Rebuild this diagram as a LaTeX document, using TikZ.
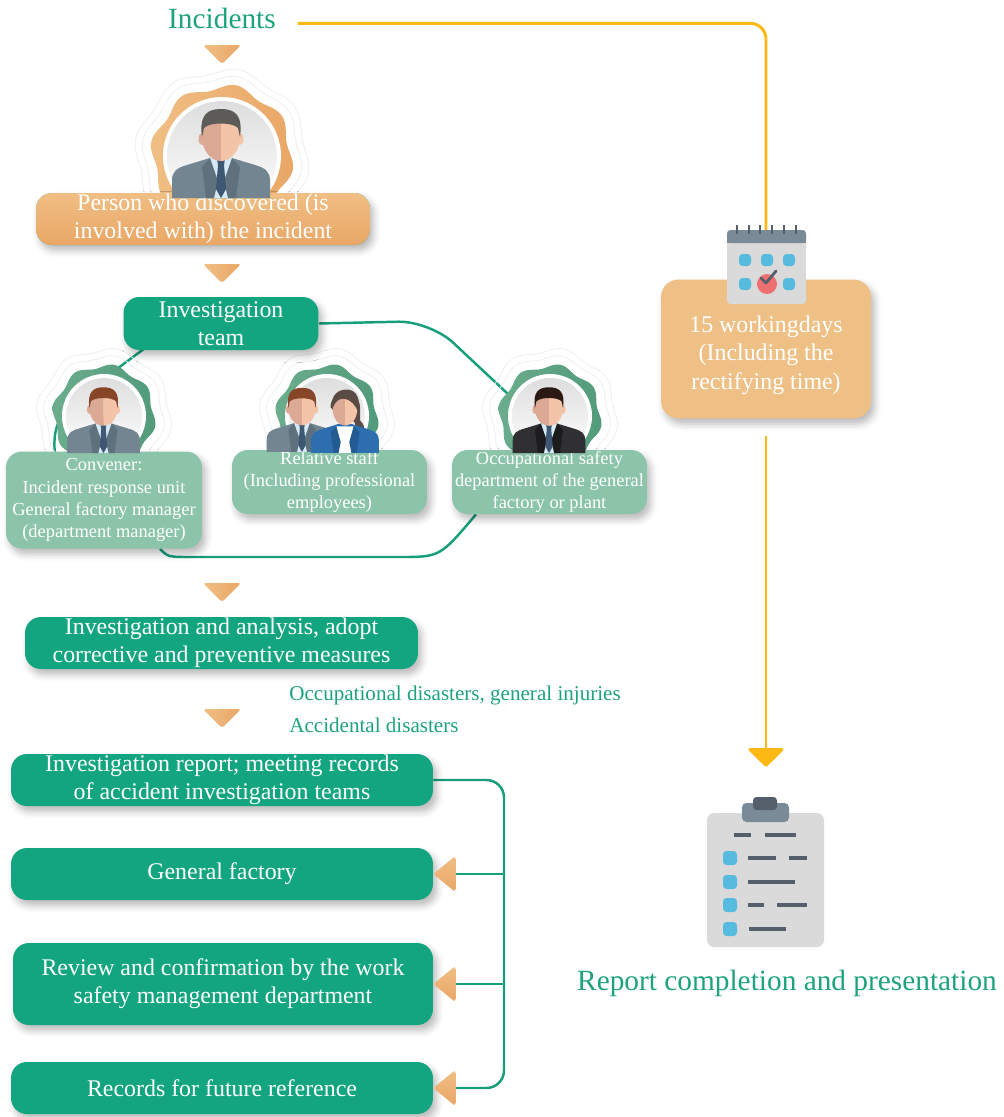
\documentclass[tikz,border=0pt]{standalone}
\usepackage{fontspec}
\setmainfont{Liberation Serif}
\usetikzlibrary{arrows.meta,positioning,calc,backgrounds,shadows.blur}
\definecolor{leaf}{HTML}{13A57F}
\definecolor{leafpale}{HTML}{8CC4A9}
\definecolor{leafline}{HTML}{179E7B}
\definecolor{ink}{HTML}{1CA37D}
\definecolor{amber}{HTML}{FDB913}
\definecolor{peach}{HTML}{EFC085}
\definecolor{peachA}{HTML}{F0BE84}
\definecolor{peachB}{HTML}{E9A766}
\definecolor{sage}{HTML}{6BAD8D}
\definecolor{sageB}{HTML}{519A7A}
\definecolor{skinA}{HTML}{DCA994}
\definecolor{skinB}{HTML}{F3C4A7}
\definecolor{shirt}{HTML}{D5EAF6}
\definecolor{tie}{HTML}{3E5873}
\definecolor{suitgray}{HTML}{728591}
\definecolor{lapelgray}{HTML}{5F717D}
\definecolor{suitdark}{HTML}{303033}
\definecolor{lapeldark}{HTML}{1C1C1E}
\definecolor{suitblue}{HTML}{2D6EAE}
\definecolor{lapelblue}{HTML}{235B93}
\definecolor{hairgray}{HTML}{5D5B58}
\definecolor{hairbrown}{HTML}{874628}
\definecolor{hairdark}{HTML}{2A1A13}
\definecolor{hairwoman}{HTML}{5A4B45}
\definecolor{slate}{HTML}{7A8B97}
\definecolor{slatedark}{HTML}{555E6B}
\definecolor{paper}{HTML}{DADADA}
\definecolor{sky}{HTML}{57BADF}
\definecolor{coral}{HTML}{EE6F6F}
\definecolor{halo}{HTML}{ECEFF5}

% wavy rosette with a white disc in the middle
\newcommand\drawbadge[6]{%
  \begin{scope}[shift={(#1,#2)}]
    \foreach \k in {9,16}
      \draw[halo, line width=0.5pt] plot[domain=0:357, samples=120, smooth cycle]
        ({(#3+\k)*(1+0.035*sin(8*\x))*cos(\x)}, {(#3+\k)*(1+0.035*sin(8*\x))*sin(\x)});
    \shade[left color=#5, right color=#6] plot[domain=0:357, samples=120, smooth cycle]
      ({#3*(1+0.045*sin(8*\x))*cos(\x)}, {#3*(1+0.045*sin(8*\x))*sin(\x)});
    \fill[white] (0,0) circle (#4+3);
    \shade[top color=black!13, bottom color=white] (0,0) circle (#4-1);
  \end{scope}}

% man in a suit: x, y, scale, suit, lapel, hair
\newcommand\drawperson[6]{%
  \begin{scope}[shift={(#1,#2)}, scale=#3]
    \fill[skinA] (-7,10) rectangle (7,26);
    \fill[#4] (-49,61) -- (-49,44) .. controls (-49,34) and (-44,31) .. (-34,28) -- (-11,21) -- (11,21)
      -- (34,28) .. controls (44,31) and (49,34) .. (49,44) -- (49,61) -- cycle;
    \fill[shirt] (-11,21) -- (11,21) -- (7,61) -- (-7,61) -- cycle;
    \fill[#5] (-11,21) -- (-3,44) -- (-7,61) -- (-15,61) -- (-19,30) -- cycle;
    \fill[#5] (11,21) -- (3,44) -- (7,61) -- (15,61) -- (19,30) -- cycle;
    \fill[tie] (-4,22) -- (4,22) -- (3,28) -- (5,52) -- (0,61) -- (-5,52) -- (-3,28) -- cycle;
    \fill[skinA] (-19,2) ellipse (3.5 and 6);
    \fill[skinB] (19,2) ellipse (3.5 and 6);
    \fill[skinA] (0,-24) arc[start angle=270, end angle=90, x radius=19, y radius=24] -- cycle;
    \fill[skinB] (0,-24) arc[start angle=-90, end angle=90, x radius=19, y radius=24] -- cycle;
    \fill[#6] (-19,0) .. controls (-22,-22) and (-14,-28) .. (0,-28) .. controls (14,-28) and (22,-22) .. (19,0)
      -- (17,-9) .. controls (12,-15) and (-12,-15) .. (-17,-9) -- cycle;
  \end{scope}}

% woman with a ponytail: x, y, scale
\newcommand\drawwoman[3]{%
  \begin{scope}[shift={(#1,#2)}, scale=#3]
    \fill[hairwoman] (-20,-2) .. controls (-22,-26) and (20,-30) .. (21,-2) -- (21,16)
      .. controls (30,24) and (30,42) .. (20,48) .. controls (23,36) and (15,28) .. (13,18) -- cycle;
    \fill[skinA] (-7,10) rectangle (7,26);
    \fill[suitblue] (-47,61) -- (-47,44) .. controls (-47,34) and (-42,31) .. (-32,28) -- (-10,21) -- (10,21)
      -- (32,28) .. controls (42,31) and (47,34) .. (47,44) -- (47,61) -- cycle;
    \fill[white] (-12,24) -- (12,24) -- (9,61) -- (-9,61) -- cycle;
    \fill[lapelblue] (-12,24) -- (-6,46) -- (-9,61) -- (-16,61) -- (-20,32) -- cycle;
    \fill[lapelblue] (12,24) -- (6,46) -- (9,61) -- (16,61) -- (20,32) -- cycle;
    \fill[skinA] (0,-23) arc[start angle=270, end angle=90, x radius=17, y radius=23] -- cycle;
    \fill[skinB] (0,-23) arc[start angle=-90, end angle=90, x radius=17, y radius=23] -- cycle;
    \fill[hairwoman] (-18,2) .. controls (-22,-22) and (-6,-28) .. (4,-27) .. controls (16,-26) and (22,-14) .. (19,6)
      .. controls (14,-8) and (4,-16) .. (-6,-14) .. controls (-12,-12) and (-16,-6) .. (-18,2) -- cycle;
  \end{scope}}

\begin{document}
\begin{tikzpicture}[
  x=0.02cm, y=-0.02cm,
  greenbox/.style={
    rectangle,
    rounded corners=9pt,
    fill=leaf,
    text=white,
    align=center,
    inner sep=0pt,
    font=\fontsize{13.6}{16}\selectfont,
    blur shadow={shadow xshift=2pt, shadow yshift=-3pt, shadow blur radius=4pt, shadow opacity=28}
  },
  palebox/.style={greenbox, fill=leafpale, font=\fontsize{10.5}{12.6}\selectfont},
  warmbox/.style={greenbox, top color=peachA, bottom color=peachB},
  daybox/.style={greenbox, fill=peach, rounded corners=10pt},
  teamline/.style={draw=leafline, line width=1.4pt},
  amberline/.style={draw=amber, line width=1.7pt},
  downtip/.pic={\shade[left color=peachA, right color=peachB, rounded corners=1.5pt] (-19,-9) -- (19,-9) -- (0,10) -- cycle;},
  lefttip/.pic={\shade[top color=peachA, bottom color=peachB, rounded corners=1.5pt] (0,0) -- (22,-18) -- (22,18) -- cycle;}
]
\useasboundingbox (0,0) rectangle (1004,1117);

\drawbadge{222}{156}{69}{56}{peachA}{peachB}
\drawbadge{104}{416}{50}{39}{sage}{sageB}
\drawbadge{327}{416}{50}{39}{sage}{sageB}
\drawbadge{550}{416}{50}{39}{sage}{sageB}
\coordinate (occtie) at (524,409);

\node[text=ink, font=\fontsize{16.7}{20}\selectfont] (incid) at (222,18) {Incidents};
\pic at (222,54) {downtip};
\node[warmbox, minimum width=6.68cm, minimum height=1.04cm] (found) at (203,219) {\raisebox{-2pt}{\parbox{6cm}{\centering Person who discovered (is\\involved with) the incident}}};
\pic at (222,273) {downtip};
\node[greenbox, minimum width=3.9cm, minimum height=1.06cm] (team) at (221,323.5) {Investigation\\team};
\node[palebox, minimum width=3.92cm, minimum height=1.94cm] (convener) at (104,500) {Convener:\\Incident response unit\\General factory manager\\(department manager)};
\node[palebox, minimum width=3.9cm, minimum height=1.28cm] (staff) at (329.5,482) {Relative staff\\(Including professional\\employees)};
\node[palebox, minimum width=3.9cm, minimum height=1.28cm] (occsafe) at (549.5,482) {Occupational safety\\department of the general\\factory or plant};
\pic at (222,592) {downtip};
\node[greenbox, minimum width=7.86cm, minimum height=1.04cm] (analysis) at (221.5,643) {Investigation and analysis, adopt\\corrective and preventive measures};
\node[anchor=west, inner sep=0pt, text=ink, font=\fontsize{12}{14}\selectfont] (injury) at (289,695) {Occupational disasters, general injuries};
\node[anchor=west, inner sep=0pt, text=ink, font=\fontsize{12}{14}\selectfont] (accident) at (289,725) {Accidental disasters};
\pic at (222,718) {downtip};
\node[greenbox, minimum width=8.44cm, minimum height=1.04cm] (report) at (222,780) {Investigation report; meeting records\\of accident investigation teams};
\node[greenbox, minimum width=8.44cm, minimum height=1.04cm] (genfac) at (222,874) {General factory};
\node[greenbox, minimum width=8.4cm, minimum height=1.64cm] (review) at (223,984) {Review and confirmation by the work\\safety management department};
\node[greenbox, minimum width=8.44cm, minimum height=1.04cm] (records) at (222,1088) {Records for future reference};
\pic at (genfac.east) {lefttip};
\pic at (review.east) {lefttip};
\pic at (records.east) {lefttip};
\coordinate (gfin) at ($(genfac.east)+(22,0)$);
\coordinate (rvin) at ($(review.east)+(22,0)$);
\coordinate (rcin) at ($(records.east)+(22,0)$);
\coordinate (spine) at (504,1088);

\drawperson{221}{137}{1}{suitgray}{lapelgray}{hairgray}
\drawperson{103.5}{408}{0.74}{suitgray}{lapelgray}{hairbrown}
\drawperson{302}{408}{0.72}{suitgray}{lapelgray}{hairbrown}
\drawwoman{345}{409}{0.72}
\drawperson{549}{408}{0.74}{suitdark}{lapeldark}{hairdark}

% right column
\node[daybox, minimum width=4.2cm, minimum height=2.78cm, font=\fontsize{13.6}{16.4}\selectfont] (days) at (766,349) {\\15 workingdays\\(Including the\\rectifying time)};
\node[minimum width=1.6cm, minimum height=1.56cm, inner sep=0pt] (cal) at (766,266) {};
\fill[paper, rounded corners=2pt] (727,230) rectangle (806,304);
\fill[slate, rounded corners=2pt] (727,230) rectangle (806,243);
\fill[slate] (727,237) rectangle (806,243);
\foreach \u in {737,749,760,772,784,796}
  \fill[slatedark] (\u-1.3,225) rectangle (\u+1.3,234);
\foreach \u/\v in {745/260,767/260,789/260,745/284,789/284}
  \fill[sky, rounded corners=2pt] (\u-6,\v-6) rectangle (\u+6,\v+6);
\fill[coral] (767,284) circle (10);
\draw[slatedark, line width=1.6pt, line cap=round, line join=round] (761,278) -- (766,283) -- (776,271);

\node[minimum width=2.34cm, minimum height=3cm, inner sep=0pt] (clip) at (766,872) {};
\fill[paper, rounded corners=4pt] (707,813) rectangle (824,947);
\fill[slate, rounded corners=2.5pt] (742,803) rectangle (789,822);
\fill[slatedark, rounded corners=2pt] (753,797) rectangle (777,810);
\foreach \a/\b/\v in {734/751/835, 765/796/835, 748/776/858, 789/807/858, 748/795/882, 748/764/905, 777/807/905, 749/786/929}
  \fill[slatedark] (\a,\v-2.3) rectangle (\b,\v+2.3);
\foreach \v in {858,882,905,929}
  \fill[sky, rounded corners=2pt] (723,\v-7) rectangle (737,\v+7);
\node[text=ink, font=\fontsize{16.7}{20}\selectfont] (done) at (787,983) {Report completion and presentation};

\begin{scope}[on background layer]
  \draw[teamline] ([xshift=-0.86cm]team.center) -- (90,389) .. controls (60,411) and (52,425) .. (55,455);
  \draw[teamline] ([xshift=1.12cm]convener.south) .. controls (168,557) .. (192,557) -- (400,557)
    .. controls (440,557) .. ([xshift=-1.47cm]occsafe.south);
  \draw[teamline, rounded corners=18pt] (team.east) -- (430,321) -- (occtie);
  \draw[teamline, rounded corners=10pt] (report.east) -| (spine) -- (rcin);
  \draw[teamline] (spine |- gfin) -- (gfin);
  \draw[teamline] (spine |- rvin) -- (rvin);
  \draw[amberline, rounded corners=9pt] ([xshift=9pt,yshift=-3pt]incid.east) -| (cal.center);
  \draw[amberline, -{Triangle[width=22pt,length=11pt,round]}, shorten <=10pt, shorten >=17pt] (days.south) -- (clip.north);
\end{scope}
\end{tikzpicture}
\end{document}
